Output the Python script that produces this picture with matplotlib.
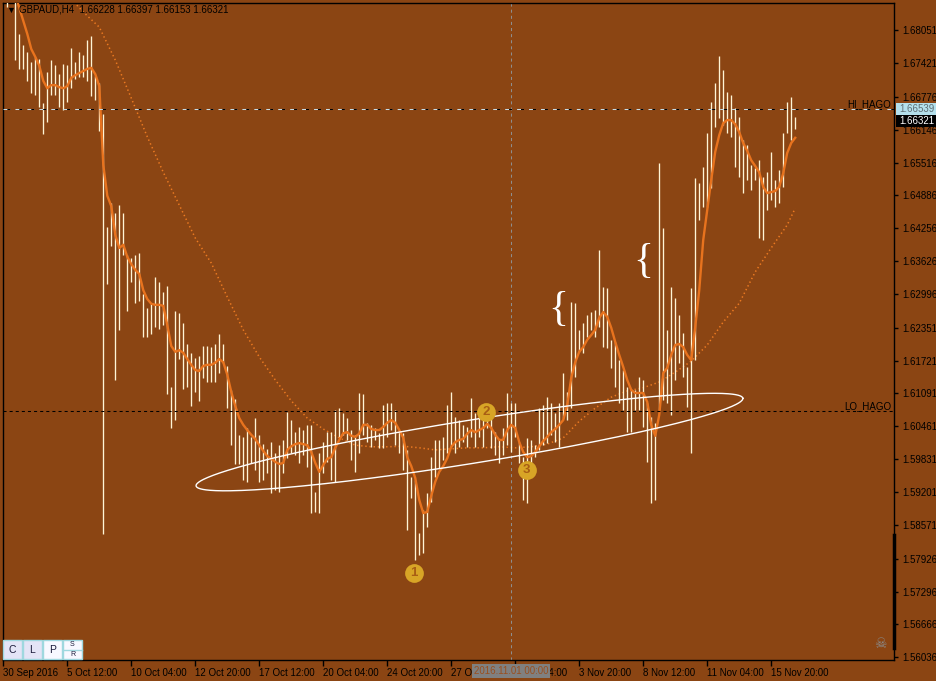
import numpy as np
import matplotlib.pyplot as plt
from matplotlib.lines import Line2D
from matplotlib.patches import Rectangle

plt.rcParams['font.family'] = ['Liberation Sans', 'DejaVu Sans']
plt.rcParams['lines.scale_dashes'] = False

# GBPAUD H4 bars (one per 4 hours)
high = [
    1.6920, 1.6892, 1.6911, 1.6882, 1.6798, 1.6777, 1.6763, 1.6744, 1.6754, 1.6750,
    1.6666, 1.6725, 1.6748, 1.6738, 1.6721, 1.6740, 1.6738, 1.6771, 1.6744, 1.6763,
    1.6758, 1.6786, 1.6794, 1.6717, 1.6704, 1.6645, 1.6428, 1.6474, 1.6455, 1.6470,
    1.6455, 1.6374, 1.6369, 1.6374, 1.6378, 1.6300, 1.6273, 1.6281, 1.6332, 1.6323,
    1.6304, 1.6315, 1.6122, 1.6267, 1.6263, 1.6244, 1.6204, 1.6187, 1.6177, 1.6181,
    1.6200, 1.6200, 1.6198, 1.6204, 1.6223, 1.6204, 1.6162, 1.6116, 1.6098, 1.6030,
    1.6026, 1.6043, 1.6026, 1.6062, 1.6030, 1.6012, 1.6003, 1.6016, 1.5995, 1.6010,
    1.6020, 1.6074, 1.6058, 1.6035, 1.6045, 1.6039, 1.6049, 1.6049, 1.5920, 1.5995,
    1.6016, 1.6035, 1.6035, 1.6077, 1.6081, 1.6072, 1.6062, 1.6039, 1.6030, 1.6110,
    1.6108, 1.6053, 1.6049, 1.6043, 1.6033, 1.6087, 1.6091, 1.6091, 1.6077, 1.6035,
    1.6033, 1.6001, 1.5949, 1.5943, 1.5842, 1.5886, 1.5918, 1.5987, 1.6020, 1.6020,
    1.6026, 1.6087, 1.6112, 1.6064, 1.6058, 1.6049, 1.6045, 1.6100, 1.6072, 1.6077,
    1.6068, 1.6083, 1.6064, 1.6035, 1.6020, 1.6043, 1.6110, 1.6091, 1.6091, 1.6016,
    1.5987, 1.6024, 1.6020, 1.6010, 1.6081, 1.6087, 1.6102, 1.6091, 1.6072, 1.6091,
    1.6148, 1.6112, 1.6284, 1.6282, 1.6231, 1.6244, 1.6260, 1.6265, 1.6269, 1.6384,
    1.6313, 1.6311, 1.6212, 1.6208, 1.6173, 1.6154, 1.6122, 1.6116, 1.6116, 1.6141,
    1.6135, 1.6091, 1.6064, 1.6053, 1.6551, 1.6426, 1.6231, 1.6313, 1.6292, 1.6260,
    1.6225, 1.6160, 1.6311, 1.6522, 1.6512, 1.6543, 1.6608, 1.6668, 1.6704, 1.6756,
    1.6729, 1.6687, 1.6681, 1.6656, 1.6639, 1.6595, 1.6585, 1.6547, 1.6541, 1.6556,
    1.6524, 1.6533, 1.6572, 1.6518, 1.6537, 1.6608, 1.6668, 1.6677, 1.66397,
]
low = [
    1.6873, 1.6850, 1.6867, 1.6748, 1.6731, 1.6731, 1.6708, 1.6685, 1.6681, 1.6658,
    1.6606, 1.6629, 1.6681, 1.6681, 1.6658, 1.6652, 1.6668, 1.6694, 1.6712, 1.6716,
    1.6716, 1.6708, 1.6679, 1.6671, 1.6612, 1.5840, 1.6319, 1.6392, 1.6135, 1.6231,
    1.6374, 1.6267, 1.6323, 1.6282, 1.6286, 1.6217, 1.6217, 1.6223, 1.6236, 1.6233,
    1.6240, 1.6108, 1.6043, 1.6058, 1.6175, 1.6118, 1.6122, 1.6085, 1.6112, 1.6095,
    1.6139, 1.6131, 1.6131, 1.6131, 1.6148, 1.6168, 1.6081, 1.6010, 1.5974, 1.5974,
    1.5943, 1.5940, 1.5976, 1.5962, 1.5940, 1.5943, 1.5957, 1.5918, 1.5924, 1.5920,
    1.5957, 1.5985, 1.5995, 1.5991, 1.5976, 1.5991, 1.5968, 1.5880, 1.5882, 1.5880,
    1.5957, 1.5978, 1.5943, 1.5940, 1.6026, 1.6030, 1.6020, 1.5982, 1.5959, 1.5995,
    1.6030, 1.6016, 1.6007, 1.6020, 1.6005, 1.6005, 1.6026, 1.6039, 1.6010, 1.5995,
    1.5962, 1.5848, 1.5909, 1.5790, 1.5800, 1.5804, 1.5853, 1.5901, 1.5949, 1.5966,
    1.5982, 1.5995, 1.6007, 1.5995, 1.6007, 1.6016, 1.6007, 1.6026, 1.6007, 1.6026,
    1.6007, 1.6043, 1.6005, 1.5991, 1.5976, 1.5991, 1.6010, 1.5997, 1.6026, 1.5976,
    1.5905, 1.5899, 1.5962, 1.5987, 1.6001, 1.6010, 1.6014, 1.6030, 1.6016, 1.6007,
    1.6062, 1.6058, 1.6081, 1.6141, 1.6189, 1.6187, 1.6217, 1.6231, 1.6217, 1.6236,
    1.6198, 1.6196, 1.6158, 1.6122, 1.6091, 1.6077, 1.6035, 1.6035, 1.6077, 1.6077,
    1.6045, 1.5978, 1.5899, 1.5905, 1.6077, 1.6097, 1.6091, 1.6068, 1.6135, 1.6168,
    1.6141, 1.6083, 1.5995, 1.6173, 1.6442, 1.6466, 1.6466, 1.6503, 1.6620, 1.6637,
    1.6624, 1.6608, 1.6601, 1.6543, 1.6524, 1.6493, 1.6518, 1.6499, 1.6518, 1.6407,
    1.6403, 1.6461, 1.6480, 1.6466, 1.6474, 1.6505, 1.6608, 1.6595, 1.66153,
]
# fast moving average (solid orange)
ma_fast = [
    1.6920, 1.6905, 1.6892, 1.6873, 1.6848, 1.6823, 1.6798, 1.6769, 1.6754, 1.6737,
    1.6708, 1.6694, 1.6700, 1.6700, 1.6696, 1.6694, 1.6698, 1.6714, 1.6719, 1.6723,
    1.6727, 1.6731, 1.6733, 1.6721, 1.6698, 1.6547, 1.6488, 1.6468, 1.6413, 1.6388,
    1.6394, 1.6371, 1.6357, 1.6346, 1.6338, 1.6307, 1.6290, 1.6281, 1.6279, 1.6279,
    1.6277, 1.6240, 1.6200, 1.6189, 1.6192, 1.6187, 1.6175, 1.6164, 1.6154, 1.6152,
    1.6162, 1.6164, 1.6164, 1.6168, 1.6175, 1.6169, 1.6145, 1.6112, 1.6085, 1.6062,
    1.6049, 1.6039, 1.6030, 1.6022, 1.6010, 1.5999, 1.5989, 1.5984, 1.5978, 1.5974,
    1.5976, 1.6001, 1.6008, 1.6012, 1.6014, 1.6012, 1.6010, 1.5997, 1.5976, 1.5959,
    1.5972, 1.5984, 1.5987, 1.6005, 1.6020, 1.6033, 1.6035, 1.6028, 1.6026, 1.6032,
    1.6049, 1.6049, 1.6041, 1.6039, 1.6039, 1.6045, 1.6053, 1.6058, 1.6053, 1.6039,
    1.6024, 1.5987, 1.5970, 1.5947, 1.5905, 1.5880, 1.5882, 1.5913, 1.5940, 1.5959,
    1.5970, 1.5985, 1.6007, 1.6016, 1.6020, 1.6022, 1.6032, 1.6039, 1.6035, 1.6039,
    1.6043, 1.6051, 1.6043, 1.6030, 1.6020, 1.6020, 1.6039, 1.6049, 1.6043, 1.6016,
    1.5997, 1.5987, 1.5989, 1.5997, 1.6008, 1.6018, 1.6026, 1.6035, 1.6041, 1.6049,
    1.6058, 1.6087, 1.6139, 1.6169, 1.6189, 1.6198, 1.6212, 1.6221, 1.6231, 1.6254,
    1.6265, 1.6256, 1.6235, 1.6208, 1.6183, 1.6160, 1.6135, 1.6116, 1.6110, 1.6110,
    1.6110, 1.6093, 1.6049, 1.6028, 1.6068, 1.6148, 1.6158, 1.6183, 1.6202, 1.6204,
    1.6198, 1.6183, 1.6173, 1.6236, 1.6307, 1.6403, 1.6461, 1.6518, 1.6572, 1.6604,
    1.6627, 1.6633, 1.6633, 1.6625, 1.6610, 1.6589, 1.6574, 1.6556, 1.6545, 1.6533,
    1.6505, 1.6493, 1.6495, 1.6497, 1.6505, 1.6531, 1.6570, 1.6589, 1.6599,
]
# slow moving average (dotted), read every 4 bars
slow_idx = [16, 20, 24, 28, 32, 36, 40, 44, 48, 52, 56, 60, 64, 68, 72, 76, 80, 84,
            88, 92, 96, 100, 104, 108, 112, 116, 120, 124, 128, 132, 136, 140, 144,
            148, 152, 156, 160, 164, 168, 172, 176, 180, 184, 188, 192, 196, 198]
slow_ma = [1.6873, 1.6840, 1.6811, 1.6748, 1.6675, 1.6601, 1.6533, 1.6470, 1.6407,
           1.6359, 1.6294, 1.6231, 1.6179, 1.6135, 1.6095, 1.6062, 1.6041, 1.6024,
           1.6010, 1.6007, 1.6007, 1.6008, 1.6005, 1.6001, 1.6003, 1.6005, 1.6005,
           1.6007, 1.6005, 1.6007, 1.6012, 1.6024, 1.6056, 1.6081, 1.6102, 1.6114,
           1.6120, 1.6131, 1.6150, 1.6171, 1.6202, 1.6246, 1.6282, 1.6342, 1.6388,
           1.6432, 1.6464]

price_ticks = [1.68051, 1.67421, 1.66776, 1.66146, 1.65516, 1.64886, 1.64256, 1.63626,
               1.62996, 1.62351, 1.61721, 1.61091, 1.60461, 1.59831, 1.59201, 1.58571,
               1.57926, 1.57296, 1.56666, 1.56036]
date_ticks = list(range(0, 193, 16))
date_labels = ['30 Sep 2016', '5 Oct 12:00', '10 Oct 04:00', '12 Oct 20:00',
               '17 Oct 12:00', '20 Oct 04:00', '24 Oct 20:00', '27 Oct 12:00',
               '1 Nov 04:00', '3 Nov 20:00', '8 Nov 12:00', '11 Nov 04:00',
               '15 Nov 20:00']

hi_hago = 1.66539
lo_hago = 1.6076
last_price = 1.66321
cursor_bar = 127
markers = [(102.7, 1.5765, '1'), (120.7, 1.6074, '2'), (130.9, 1.5962, '3')]
braces = [(138.7, 1.6269), (159.9, 1.6361)]
ell_ends = [(48.2, 1.5932), (184.9, 1.6100)]
ell_ratio = 0.078

BG = '#8B4513'
W, H = 937, 681


def fpx(x, y):
    return x / W, 1 - y / H


fig = plt.figure(figsize=(W / 100, H / 100), dpi=100, facecolor=BG)
ax = fig.add_axes([3 / W, 21 / H, 891 / W, 657 / H], facecolor=BG)
ax.set_xlim(-0.075, 222.7)
ax.set_ylim(1.55984, 1.68573)

bars = np.arange(len(high))
ax.vlines(bars, low, high, color='#FFF5D6', linewidth=0.95, zorder=3)
ax.plot(bars, ma_fast, color='#E8731E', linewidth=1.7, zorder=4)
ax.plot(slow_idx, slow_ma, color='#EC7A22', linewidth=1.1,
        linestyle=(0, (1.0, 2.0)), zorder=2)

# level lines
ax.axhline(hi_hago, color='#C9DCE4', linewidth=0.75, linestyle=(0, (5, 3.6)), zorder=5)
ax.axhline(hi_hago, color='black', linewidth=0.75, linestyle=(5.8, (2.2, 6.4)), zorder=5)
ax.axhline(lo_hago, color='black', linewidth=0.75, linestyle=(0, (2.2, 2.2)), zorder=5)
ax.axvline(cursor_bar, color='#8E8E8E', linewidth=0.75, linestyle=(0, (2.2, 2.2)), zorder=1)
ytr = ax.get_yaxis_transform()
ax.text(0.997, hi_hago, 'HI_HAGO', transform=ytr, ha='right', va='bottom',
        fontsize=7, color='black')
ax.text(0.997, lo_hago, 'LO_HAGO', transform=ytr, ha='right', va='bottom',
        fontsize=7, color='black')

# ellipse drawn in screen space from its two anchor points
p1 = ax.transData.transform(ell_ends[0])
p2 = ax.transData.transform(ell_ends[1])
c = (p1 + p2) / 2
d = p2 - p1
a = np.hypot(d[0], d[1]) / 2
ang = np.arctan2(d[1], d[0])
b = a * ell_ratio
t = np.linspace(0, 2 * np.pi, 400)
ex = c[0] + a * np.cos(t) * np.cos(ang) - b * np.sin(t) * np.sin(ang)
ey = c[1] + a * np.cos(t) * np.sin(ang) + b * np.sin(t) * np.cos(ang)
epts = ax.transData.inverted().transform(np.column_stack([ex, ey]))
ax.plot(epts[:, 0], epts[:, 1], color='white', linewidth=1.0, zorder=6)

for mx, my, lab in markers:
    ax.plot(mx, my, 'o', markersize=13.5, color='#D8A526', markeredgewidth=0, zorder=7)
    ax.text(mx, my, lab, ha='center', va='center', fontsize=9.5, fontweight='bold',
            color='#A85E14', zorder=8)

for bx, by in braces:
    ax.text(bx, by, '{', ha='center', va='center', fontsize=30, color='white',
            family='Liberation Serif', zorder=8)

# axes
for s in ax.spines.values():
    s.set_color('black')
    s.set_linewidth(1)
ax.yaxis.tick_right()
ax.set_yticks(price_ticks)
ax.set_yticklabels([f'{p:.5f}' for p in price_ticks])
ax.tick_params(axis='y', direction='out', length=3, width=1, colors='black',
               labelsize=7, pad=3)
ax.set_xticks(date_ticks)
ax.set_xticklabels(date_labels, ha='left')
ax.tick_params(axis='x', direction='out', length=4, width=1, colors='black',
               labelsize=7, pad=2)

# price labels on the scale
for price, fc, tc in [(hi_hago, '#B4E0EC', '#5E6E74'), (last_price, 'black', 'white')]:
    yp = ax.transData.transform((0, price))[1]
    yf = yp / H
    fig.add_artist(Rectangle((896 / W, yf - 6 / H), 41 / W, 12 / H,
                             transform=fig.transFigure, facecolor=fc,
                             edgecolor='none', zorder=9))
    fig.text(899 / W, yf, f'{price:.5f}', fontsize=7, color=tc, ha='left',
             va='center', zorder=10)

# cursor date box on the time scale
ax.text(cursor_bar, -0.0167, '2016.11.01 00:00', transform=ax.get_xaxis_transform(),
        ha='center', va='center', fontsize=7, color='#9A5020', zorder=9,
        bbox=dict(boxstyle='square,pad=0.2', fc='#808080', ec='none'))

# title
fig.text(*fpx(6, 10), '\u25bc', fontsize=6.5, color='black', va='center', ha='left')
fig.text(*fpx(19, 10), 'GBPAUD,H4  1.66228 1.66397 1.66153 1.66321', fontsize=7,
         color='black', va='center', ha='left')

# buttons bottom-left
btns = [(3, 'C', '#E4E4F6'), (23, 'L', '#E4E4F6'), (43, 'P', '#F8F8FF'), (63, '', '#F8F8FF')]
for bx, lab, fc in btns:
    x0, y0 = fpx(bx, 659)
    fig.add_artist(Rectangle((x0, y0), 19 / W, 19 / H, transform=fig.transFigure,
                             facecolor=fc, edgecolor='#9FD8DF', linewidth=1))
    if lab:
        fig.text(*fpx(bx + 9.5, 650), lab, fontsize=7.5, color='#1A1A3A',
                 ha='center', va='center')
fig.add_artist(Line2D([64 / W, 82 / W], [1 - 650 / H] * 2, color='#9FD8DF',
                      linewidth=1, transform=fig.transFigure))
fig.text(*fpx(72.5, 645), 'S', fontsize=5, color='#1A1A3A', ha='center', va='center')
fig.text(*fpx(72.5, 655), 'R', fontsize=5, color='#1A1A3A', ha='center', va='center')

# scroll marker and skull icon at right
fig.add_artist(Line2D([894 / W, 894 / W], [1 - 535 / H, 1 - 648 / H], color='black',
                      linewidth=2.5, transform=fig.transFigure))
fig.text(*fpx(880, 644), '\u2620', fontsize=10, color='#8A8A8A', ha='center',
         va='center', family='DejaVu Sans')

fig.savefig('out.png', dpi=100, facecolor=BG)
